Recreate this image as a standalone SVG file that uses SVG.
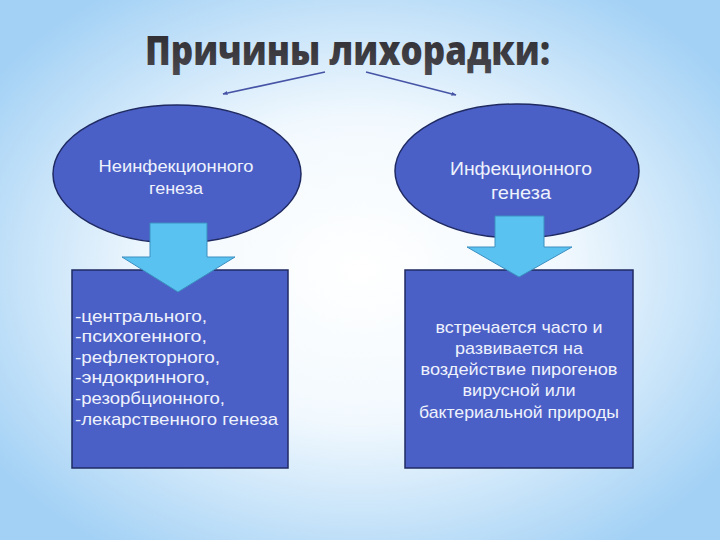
<svg xmlns="http://www.w3.org/2000/svg" width="720" height="540" viewBox="0 0 720 540">
  <defs>
    <radialGradient id="bg" cx="50%" cy="50%" r="62%">
      <stop offset="0" stop-color="#ffffff"/>
      <stop offset="0.45" stop-color="#f2f9fe"/>
      <stop offset="1" stop-color="#a3d1f5"/>
    </radialGradient>
    <linearGradient id="titleFill" x1="0" y1="0" x2="0" y2="1">
      <stop offset="0" stop-color="#26262b"/>
      <stop offset="1" stop-color="#4a4a50"/>
    </linearGradient>
    <marker id="ah" viewBox="0 0 10 10" refX="9" refY="5" markerWidth="5" markerHeight="5" orient="auto" markerUnits="userSpaceOnUse">
      <path d="M0,1 L10,5 L0,9 z" fill="#4654a6"/>
    </marker>
    <style>
      .title { font-family: "Open Sans", "Liberation Sans", sans-serif; font-weight: 800; font-size: 41px; fill: url(#titleFill); }
      .shape { fill: #4b60c6; stroke: #1f2a63; stroke-width: 1.5; }
      .barrow { fill: #5ac2f0; stroke: #3b8fc0; stroke-width: 1; }
      .lbl { font-family: "Liberation Sans", "DejaVu Sans", sans-serif; fill: #eef2fd; }
      .conn { stroke: #4654a6; stroke-width: 1.6; fill: none; }
    </style>
  </defs>

  <rect x="0" y="0" width="720" height="540" fill="url(#bg)"/>

  <g id="title">
    <text class="title" x="145" y="65" textLength="405" lengthAdjust="spacingAndGlyphs">Причины лихорадки:</text>
  </g>

  <g id="connectors">
    <line class="conn" x1="325" y1="72" x2="223" y2="94" marker-end="url(#ah)"/>
    <line class="conn" x1="366" y1="72" x2="456" y2="95" marker-end="url(#ah)"/>
  </g>

  <g id="node-noninfectious">
    <ellipse class="shape" cx="177" cy="174" rx="124" ry="69"/>
    <text class="lbl" font-size="17" text-anchor="middle" x="176" y="172" textLength="155" lengthAdjust="spacingAndGlyphs">Неинфекционного</text>
    <text class="lbl" font-size="17" text-anchor="middle" x="176" y="194" textLength="54" lengthAdjust="spacingAndGlyphs">генеза</text>
  </g>

  <g id="node-infectious">
    <ellipse class="shape" cx="517" cy="171" rx="122" ry="67"/>
    <text class="lbl" font-size="19" text-anchor="middle" x="521" y="175" textLength="142" lengthAdjust="spacingAndGlyphs">Инфекционного</text>
    <text class="lbl" font-size="19" text-anchor="middle" x="521" y="199" textLength="60" lengthAdjust="spacingAndGlyphs">генеза</text>
  </g>

  <g id="box-noninfectious">
    <rect class="shape" x="72" y="270" width="216" height="198"/>
    <g class="lbl" font-size="17">
      <text x="75" y="322" textLength="132" lengthAdjust="spacingAndGlyphs">-центрального,</text>
      <text x="75" y="342" textLength="132" lengthAdjust="spacingAndGlyphs">-психогенного,</text>
      <text x="75" y="363" textLength="145" lengthAdjust="spacingAndGlyphs">-рефлекторного,</text>
      <text x="75" y="383" textLength="135" lengthAdjust="spacingAndGlyphs">-эндокринного,</text>
      <text x="75" y="404" textLength="150" lengthAdjust="spacingAndGlyphs">-резорбционного,</text>
      <text x="75" y="425" textLength="203" lengthAdjust="spacingAndGlyphs">-лекарственного генеза</text>
    </g>
  </g>

  <g id="box-infectious">
    <rect class="shape" x="405" y="270" width="228" height="198"/>
    <g class="lbl" font-size="17" text-anchor="middle">
      <text x="519" y="333" textLength="167" lengthAdjust="spacingAndGlyphs">встречается часто и</text>
      <text x="519" y="354" textLength="128" lengthAdjust="spacingAndGlyphs">развивается на</text>
      <text x="519" y="375" textLength="197" lengthAdjust="spacingAndGlyphs">воздействие пирогенов</text>
      <text x="519" y="396" textLength="113" lengthAdjust="spacingAndGlyphs">вирусной или</text>
      <text x="519" y="418" textLength="200" lengthAdjust="spacingAndGlyphs">бактериальной природы</text>
    </g>
  </g>

  <g id="arrow-left">
    <path class="barrow" d="M150,223 L207,223 L207,257 L235,257 L178,292 L122,257 L150,257 Z"/>
  </g>
  <g id="arrow-right">
    <path class="barrow" d="M495,216 L544,216 L544,247 L572,247 L519,277 L467,247 L495,247 Z"/>
  </g>
</svg>
